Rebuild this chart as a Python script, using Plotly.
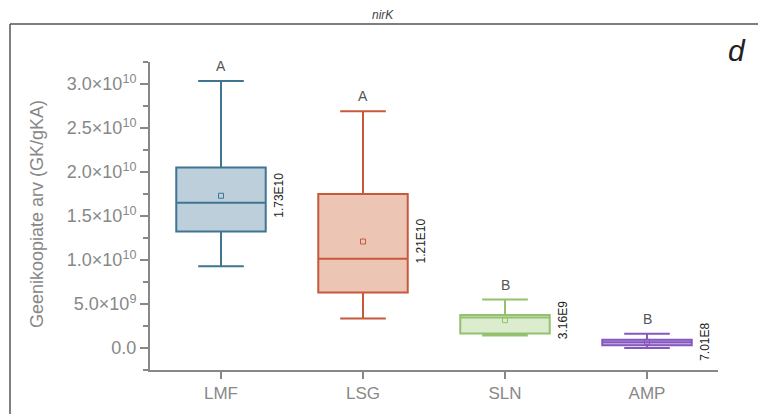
import plotly.graph_objects as go

categories = ["LMF", "LSG", "SLN", "AMP"]
lower_whisker = [9.3e9, 3.36e9, 1.43e9, 0.0]
q1 = [13.25e9, 6.3e9, 1.66e9, 0.3e9]
median = [16.5e9, 10.15e9, 3.47e9, 0.64e9]
q3 = [20.5e9, 17.5e9, 3.74e9, 0.94e9]
upper_whisker = [30.35e9, 26.9e9, 5.5e9, 1.62e9]
means = [1.73e10, 1.21e10, 3.16e9, 7.01e8]
mean_labels = ["1.73E10", "1.21E10", "3.16E9", "7.01E8"]
letters = ["A", "A", "B", "B"]
line_colors = ["#3f7592", "#c8583c", "#93c16f", "#8657bd"]
fill_colors = ["#bccfdb", "#ecc5b4", "#dcecce", "#cdb8e8"]

ytick_vals = [0, 5e9, 1e10, 1.5e10, 2e10, 2.5e10, 3e10]
ytick_text = ["0.0", "5.0×10<sup>9</sup>", "1.0×10<sup>10</sup>", "1.5×10<sup>10</sup>",
              "2.0×10<sup>10</sup>", "2.5×10<sup>10</sup>", "3.0×10<sup>10</sup>"]
yminor_vals = [-2.5e9, 2.5e9, 7.5e9, 1.25e10, 1.75e10, 2.25e10, 2.75e10, 3.25e10]

fig = go.Figure()
for i, c in enumerate(categories):
    fig.add_trace(go.Box(
        x=[c], q1=[q1[i]], median=[median[i]], q3=[q3[i]],
        lowerfence=[lower_whisker[i]], upperfence=[upper_whisker[i]],
        width=0.63, whiskerwidth=0.51,
        fillcolor=fill_colors[i], line=dict(color=line_colors[i], width=2),
        boxpoints=False, showlegend=False, hoverinfo="skip"))
    fig.add_trace(go.Scatter(
        x=[c], y=[means[i]], mode="markers",
        marker=dict(symbol="square-open", size=5, color=line_colors[i], line=dict(width=1)),
        showlegend=False, hoverinfo="skip"))
    fig.add_annotation(x=c, y=means[i], text=mean_labels[i], textangle=-90,
                       showarrow=False, xshift=58, font=dict(size=12, color="#222"))
    fig.add_annotation(x=c, y=upper_whisker[i], text=letters[i], showarrow=False,
                       yanchor="bottom", yshift=5, font=dict(size=14, color="#555"))

# page body has an 8px margin; figure is offset accordingly
fig.update_layout(
    width=758, height=406,
    margin=dict(l=142, r=48, t=54, b=44, autoexpand=False),
    paper_bgcolor="white", plot_bgcolor="white",
    font=dict(family="Liberation Sans, Arial, sans-serif", color="#888"),
    boxmode="overlay",
    xaxis=dict(range=[-0.5, 3.5], showline=True, linecolor="#888", linewidth=2,
               ticks="outside", ticklen=7, tickcolor="#888", tickwidth=2, automargin=False,
               tickfont=dict(size=17, color="#888"), showgrid=False, zeroline=False),
    yaxis=dict(range=[-2.5e9, 32.5e9], showline=True, linecolor="#888", linewidth=2,
               tickmode="array", tickvals=ytick_vals, ticktext=ytick_text, automargin=False,
               ticks="outside", ticklen=8, tickcolor="#888", tickwidth=2,
               minor=dict(tickmode="array", tickvals=yminor_vals, ticks="outside",
                          ticklen=5, tickcolor="#888", tickwidth=2, showgrid=False),
               tickfont=dict(size=18, color="#888"), showgrid=False, zeroline=False),
)

# y axis title placed as paper annotation
fig.add_annotation(xref="paper", yref="paper", x=(37 - 150) / 568, y=(370 - 214) / 308,
                   text="Geenikoopiate arv (GK/gKA)", textangle=-90, showarrow=False,
                   xanchor="center", yanchor="middle", font=dict(size=18, color="#888"))

# outer frame
fig.add_shape(type="line", xref="paper", yref="paper", x0=-140/568, x1=612/568,
              y0=1 + 38/308, y1=1 + 38/308, line=dict(color="#555", width=1.5))
fig.add_shape(type="line", xref="paper", yref="paper", x0=-140/568, x1=-140/568,
              y0=-44/308 - 0.01, y1=1 + 38/308, line=dict(color="#555", width=1.5))
fig.add_shape(type="line", xref="paper", yref="paper", x0=612/568, x1=612/568,
              y0=-44/308 - 0.01, y1=1 + 38/308, line=dict(color="#555", width=1.5))

fig.add_annotation(xref="paper", yref="paper", x=(383 - 150) / 568, y=1 + 47/308,
                   xanchor="center", yanchor="middle",
                   text="<i>nirK</i>", showarrow=False, font=dict(size=12, color="#444"))
fig.add_annotation(xref="paper", yref="paper", x=(737 - 150) / 568, y=1 - (50 - 62) / 308,
                   xanchor="center", yanchor="middle",
                   text="<i>d</i>", showarrow=False, font=dict(size=30, color="#222"))

fig.write_html("out.html")
